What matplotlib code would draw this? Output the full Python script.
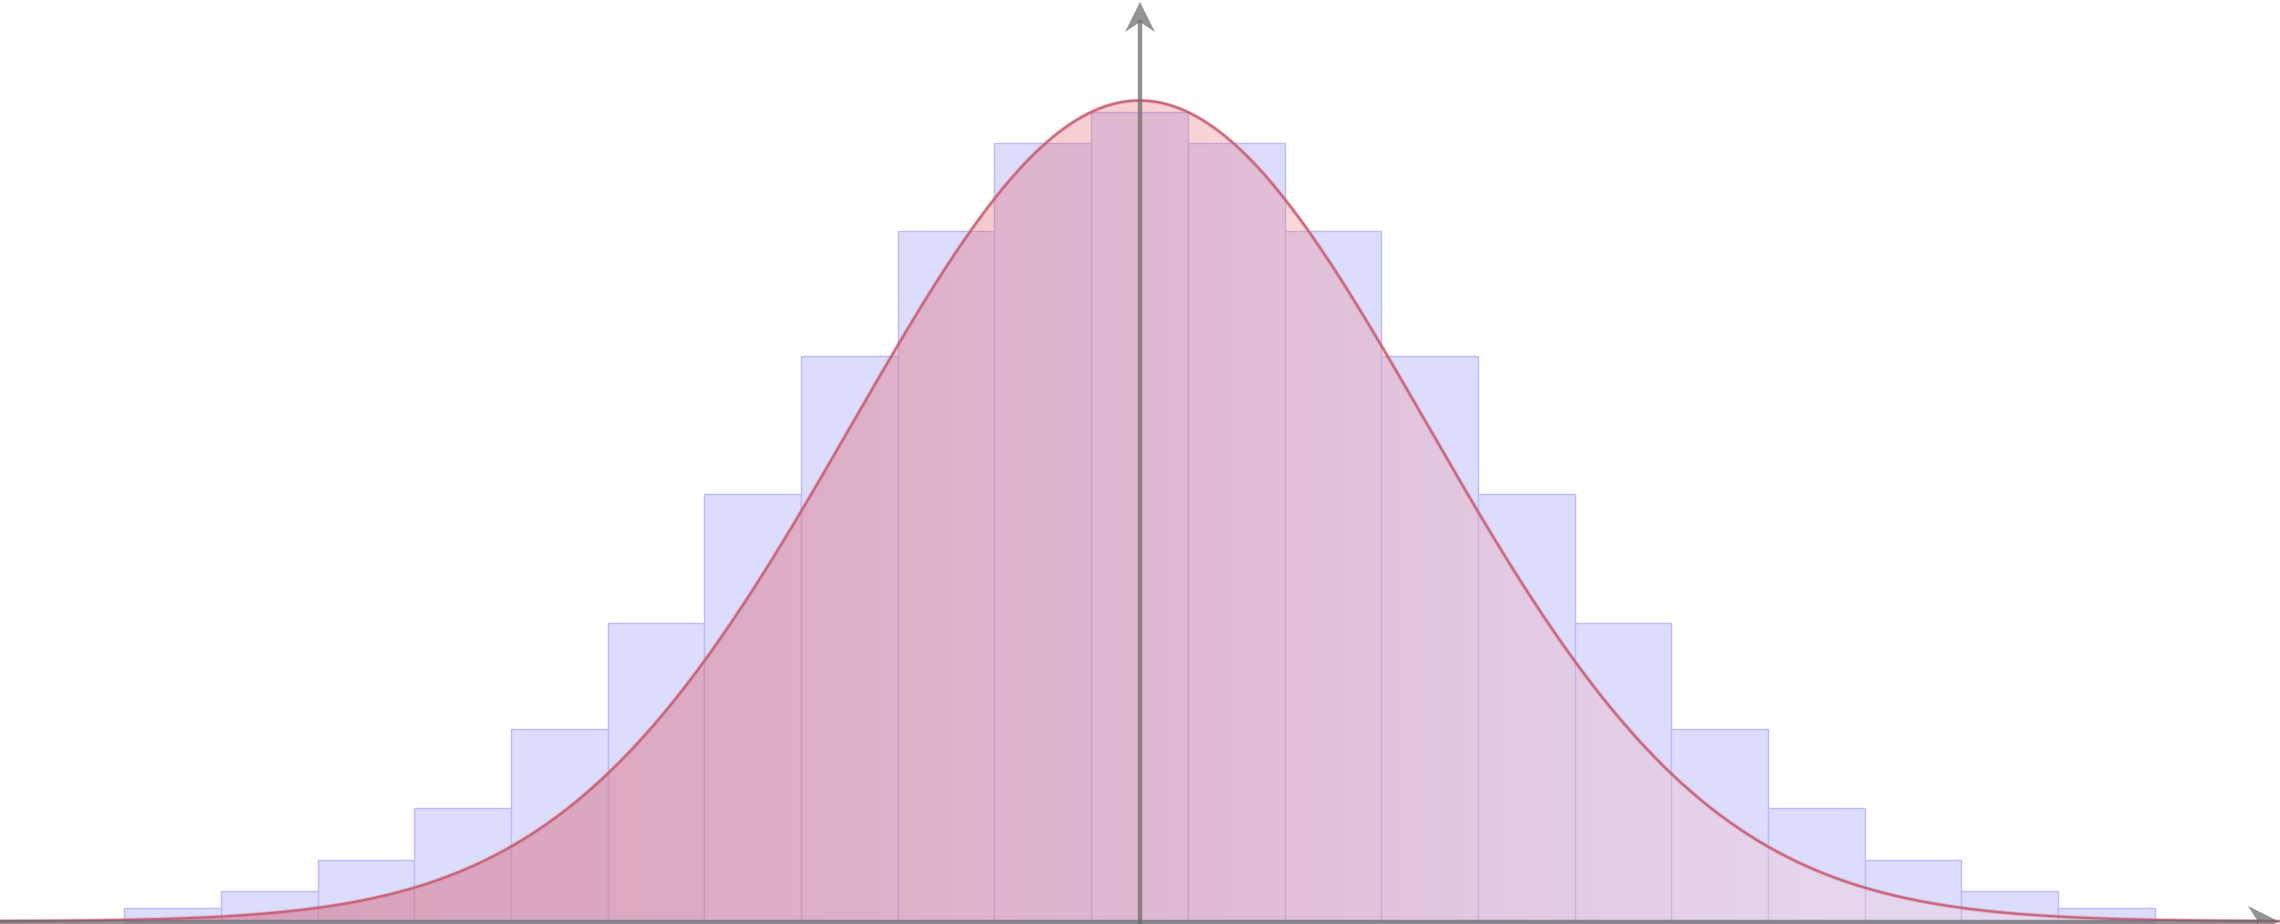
import numpy as np
import matplotlib
matplotlib.use("Agg")
import matplotlib.pyplot as plt
from matplotlib.patches import Polygon

# ---- data ----
bin_centers = list(range(-10, 11))
bar_heights = [14, 31, 62, 114, 193, 299, 428, 566, 691, 779, 810,
               779, 691, 566, 428, 299, 193, 114, 62, 31, 14]
curve_mean = 0.0
curve_sigma = 2.97
curve_peak = 821.0

# ---- figure ----
W, H, DPI = 2280, 924, 100
fig = plt.figure(figsize=(W / DPI, H / DPI), dpi=DPI)
ax = fig.add_axes([0, 0, 1, 1])
px = 96.7            # pixels per bin
cx = 1139.5          # pixel of x = 0
base = 921.5         # pixel row of y = 0
x0, x1 = (0 - cx) / px, (W - cx) / px
ax.set_xlim(x0, x1)
ax.set_ylim(-(H - base), base)
ax.axis("off")

# bars
ax.bar(bin_centers, bar_heights, width=1.0, color="#dcdcfc",
       edgecolor="#bcbcf6", linewidth=1.0, zorder=1)

# normal curve
xs = np.linspace(x0, x1, 1200)
ys = curve_peak * np.exp(-0.5 * ((xs - curve_mean) / curve_sigma) ** 2)

# gradient fill under the curve
stops_x = [x0, -5.5, 0.0, 6.8, x1]
stops_c = np.array([
    [208, 94, 116, 0.52],
    [220, 100, 115, 0.43],
    [233, 105, 112, 0.31],
    [255, 195, 200, 0.28],
    [255, 225, 232, 0.25],
])
gx = np.linspace(x0, x1, 800)
grad = np.zeros((1, gx.size, 4))
for i in range(4):
    grad[0, :, i] = np.interp(gx, stops_x, stops_c[:, i])
grad[..., :3] /= 255.0
poly_pts = np.column_stack([np.r_[xs, xs[::-1]], np.r_[ys, np.zeros_like(ys)]])
clip = Polygon(poly_pts, closed=True, facecolor="none", edgecolor="none")
ax.add_patch(clip)
im = ax.imshow(grad, extent=[x0, x1, 0, curve_peak + 5], aspect="auto",
               interpolation="bilinear", zorder=2, origin="lower")
im.set_clip_path(clip)
ax.set_xlim(x0, x1)
ax.set_ylim(-(H - base), base)

ax.plot(xs, ys, color="#e07080", linewidth=3.0, alpha=0.35, zorder=3)
ax.plot(xs, ys, color="#c25a70", linewidth=1.6, alpha=0.85, zorder=3)

# axes with arrows
gray = (0.41, 0.41, 0.41)
a_alpha = 0.72
lw = 3.2
def dx(p):
    return (p - cx) / px
def dy(p):
    return base - p

ax.plot([0, 0], [dy(H + 10), dy(20)], color=gray, alpha=a_alpha, lw=lw,
        solid_capstyle="butt", zorder=4)
ax.add_patch(Polygon([[dx(1140), dy(2)], [dx(1125), dy(32)], [dx(1140), dy(22)],
                      [dx(1155), dy(32)]], closed=True, facecolor=gray,
                     edgecolor="none", alpha=a_alpha, zorder=4))
ax.plot([dx(-10), dx(2258)], [0, 0], color=gray, alpha=a_alpha, lw=lw,
        solid_capstyle="butt", zorder=4)
ax.add_patch(Polygon([[dx(2279), 0], [dx(2248), dy(906)], [dx(2258), 0],
                      [dx(2248), dy(937)]], closed=True, facecolor=gray,
                     edgecolor="none", alpha=a_alpha, zorder=4))

fig.savefig("out.png", dpi=DPI)
